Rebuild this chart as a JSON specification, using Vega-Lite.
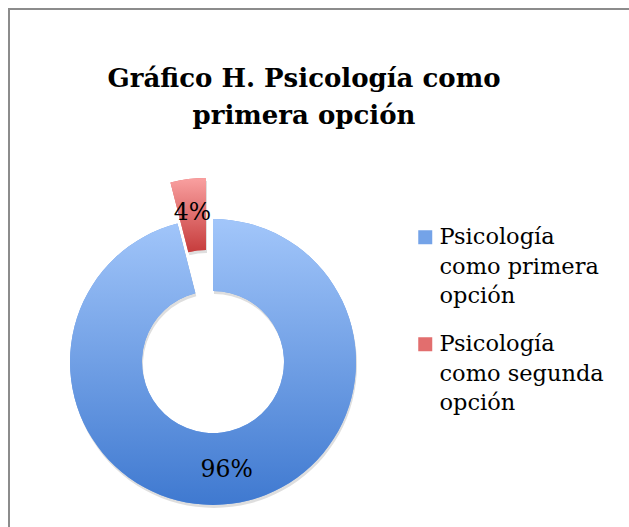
{
  "$schema": "https://vega.github.io/schema/vega-lite/v6.json",
  "width": 640,
  "height": 540,
  "autosize": {"type": "none"},
  "padding": {"left": 9, "top": 9, "right": -20, "bottom": -22},
  "background": "white",
  "view": {"stroke": "#8c8c8c", "strokeWidth": 2},
  "config": {
    "view": {"stroke": "#8c8c8c", "strokeWidth": 2}
  },
  "title": {
    "text": ["Gráfico H. Psicología como", "primera opción"],
    "font": "DejaVu Serif",
    "fontSize": 26,
    "fontWeight": "bold",
    "color": "#000000",
    "lineHeight": 37,
    "anchor": "middle",
    "frame": "group",
    "baseline": "alphabetic",
    "offset": 0,
    "dx": -25,
    "dy": 141
  },
  "data": {
    "values": [
      {"categoria": "Psicología como primera opción", "valor": 96, "etiqueta": "96%"},
      {"categoria": "Psicología como segunda opción", "valor": 4, "etiqueta": "4%"}
    ]
  },
  "encoding": {
    "theta": {"field": "valor", "type": "quantitative", "stack": true},
    "order": {"field": "valor", "sort": "descending"}
  },
  "layer": [
    {
      "mark": {
        "type": "arc",
        "radius": 143,
        "radius2": 71,
        "x": 204,
        "y": 353,
        "fill": "#000000",
        "opacity": 0.13,
        "xOffset": {"expr": "datum.valor < 50 ? -6 : 1"},
        "yOffset": {"expr": "datum.valor < 50 ? -38 : 3"}
      }
    },
    {
      "mark": {
        "type": "arc",
        "radius": 143,
        "radius2": 71,
        "x": 204,
        "y": 353,
        "xOffset": {"expr": "datum.valor < 50 ? -7 : 0"},
        "yOffset": {"expr": "datum.valor < 50 ? -41 : 0"}
      },
      "encoding": {
        "color": {
          "field": "categoria",
          "type": "nominal",
          "scale": {
            "domain": ["Psicología como primera opción", "Psicología como segunda opción"],
            "range": ["#74a3e8", "#e26e6e"]
          },
          "legend": {
            "title": null,
            "orient": "none",
            "legendX": 405,
            "legendY": 217,
            "symbolType": "square",
            "symbolSize": 196,
            "symbolStrokeWidth": 0,
            "labelFont": "DejaVu Serif",
            "labelFontSize": 22.5,
            "labelColor": "#000000",
            "labelLimit": 400,
            "labelOffset": 3,
            "labelBaseline": "middle",
            "rowPadding": 25,
            "labelExpr": "datum.label == 'Psicología como primera opción' ? ['Psicología', 'como primera', 'opción'] : ['Psicología', 'como segunda', 'opción']",
            "encoding": {
              "labels": {
                "lineHeight": {"value": 29.5}
              },
              "symbols": {
                "fill": {"value": {"expr": "datum.value == 'Psicología como primera opción' ? {gradient: 'linear', x1: 0, y1: 0, x2: 0, y2: 1, stops: [{offset: 0, color: '#a2c6fa'}, {offset: 1, color: '#3f79d0'}]} : {gradient: 'linear', x1: 0, y1: 0, x2: 0, y2: 1, stops: [{offset: 0, color: '#f9a0a0'}, {offset: 1, color: '#c63c3c'}]}"}}
              }
            }
          }
        }
      }
    },
    {
      "mark": {
        "type": "arc",
        "radius": 143,
        "radius2": 71,
        "x": 204,
        "y": 353,
        "fill": {"expr": "datum.valor > 50 ? {gradient: 'linear', x1: 0, y1: 0, x2: 0, y2: 1, stops: [{offset: 0, color: '#a2c6fa'}, {offset: 1, color: '#3f79d0'}]} : {gradient: 'linear', x1: 0, y1: 0, x2: 0, y2: 1, stops: [{offset: 0, color: '#f9a0a0'}, {offset: 1, color: '#c63c3c'}]}"},
        "xOffset": {"expr": "datum.valor < 50 ? -7 : 0"},
        "yOffset": {"expr": "datum.valor < 50 ? -41 : 0"}
      }
    },
    {
      "mark": {
        "type": "text",
        "radius": 109,
        "x": 204,
        "y": 353,
        "font": "DejaVu Serif",
        "fontSize": 23.5,
        "color": "#000000",
        "xOffset": {"expr": "datum.valor < 50 ? -7 : 0"},
        "yOffset": {"expr": "datum.valor < 50 ? -41 : 0"}
      },
      "encoding": {
        "text": {"field": "etiqueta"}
      }
    }
  ]
}
